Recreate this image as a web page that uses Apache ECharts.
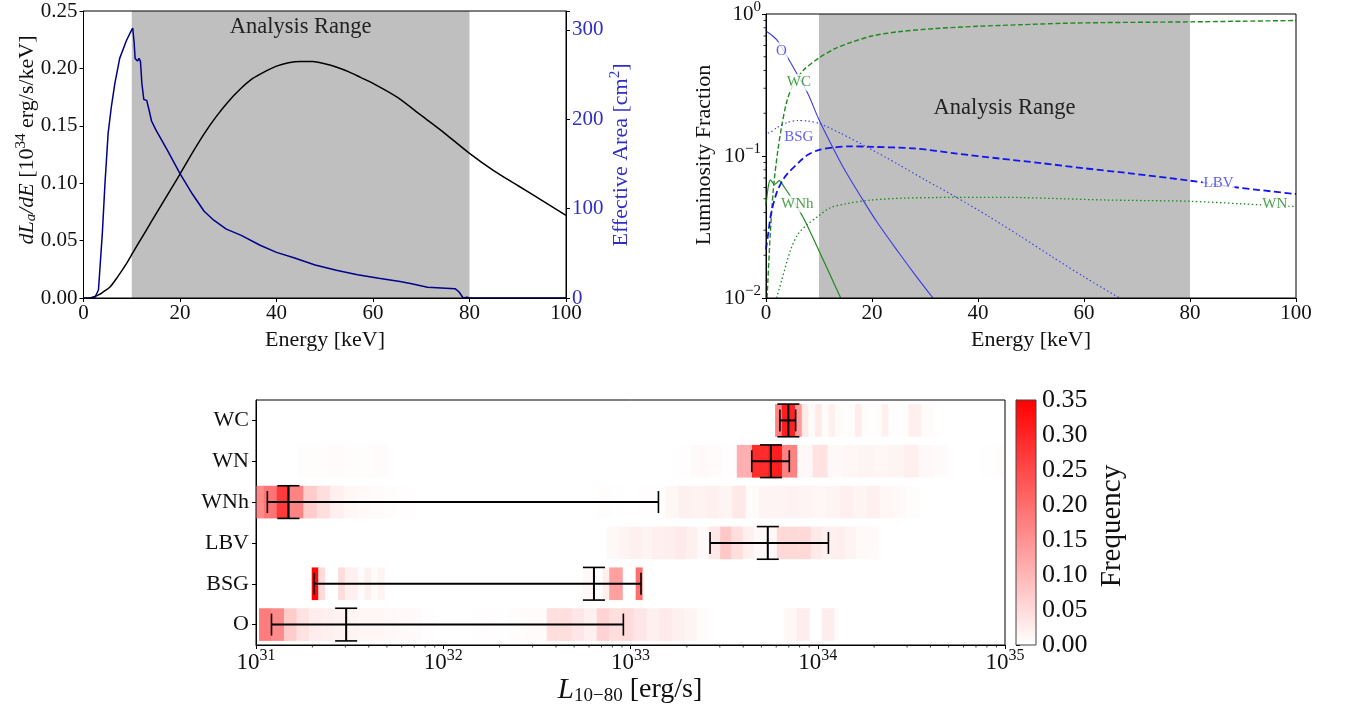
<!DOCTYPE html>
<html><head><meta charset="utf-8">
<script src="https://cdn.jsdelivr.net/npm/echarts@6/dist/echarts.min.js"></script>
<style>html,body{margin:0;padding:0;background:#fff}#c{width:1346px;height:712px}</style>
</head><body><div id="c"></div>
<script>
// ---------- Top-left: axion spectrum and effective area ----------
const E_DLDE = [1.3,2,3,4,5.5,7,8.9,10.3,12,14,16,18,20,22.5,25,27.5,30,32.5,35,37.5,40,42.5,45,47.5,50,52.5,55,57.5,60,65,70,75,80,85,90,95,100];
const DLDE   = [0,0.0008,0.0025,0.005,0.0096,0.018,0.030,0.040,0.052,0.066,0.08,0.094,0.108,0.126,0.143,0.158,0.171,0.182,0.191,0.197,0.202,0.205,0.206,0.206,0.204,0.201,0.197,0.192,0.187,0.175,0.159,0.143,0.126,0.111,0.098,0.085,0.072];
const E_AEFF = [0,2.3,3.1,3.9,4.45,5.1,5.8,6.5,7.5,8.9,9.8,10.2,10.5,10.7,11.2,11.5,11.8,12.1,12.5,13.1,13.6,14.1,15,17.4,20,22.6,25,27,29.6,32.7,36.6,40,43.6,48,52.4,56.8,61.2,65.6,68,71.3,77,77.8,78.7,79.5,80,100];
const AEFF   = [0,0,9,72,128,184,215,240,268,288,298,302,285,268,265,268,265,240,222,221,210,198,188,165,139,116,97,87,77,70,59,51,45,37,31,26,22,18.5,16,12,10.4,7,0,1,0,0];
const ANALYSIS_RANGE = [10, 80];

// ---------- Top-right: luminosity fractions ----------
const E_O   = [0,2,4,6,8,10,12.7,15,18,21,25,28,31.5];
const F_O   = [0.76,0.66,0.50,0.37,0.27,0.18,0.113,0.078,0.051,0.034,0.021,0.0148,0.01];
const E_WC  = [0.2,0.8,1.4,2.2,3,3.9,5,7,10,13,16,20,25,32,40,48,56,64,72,80,90,100];
const F_WC  = [0.01,0.028,0.059,0.107,0.165,0.24,0.31,0.40,0.49,0.57,0.63,0.70,0.75,0.79,0.82,0.84,0.86,0.87,0.875,0.88,0.89,0.90];
const E_BSG = [0,0.5,2,4,6,8,10,14,19,25,30,36,42,48,54,60,66.7];
const F_BSG = [0.155,0.145,0.158,0.172,0.178,0.176,0.17,0.145,0.116,0.087,0.068,0.051,0.0376,0.0272,0.0195,0.0141,0.01];
const E_LBV = [0,0.5,1,2,3,3.9,6.3,7.9,9.9,13,16,20,28,36,44,52,60,68,80,89,100];
const F_LBV = [0.022,0.03,0.04,0.055,0.066,0.074,0.091,0.102,0.110,0.115,0.117,0.116,0.113,0.104,0.096,0.089,0.082,0.076,0.067,0.060,0.054];
const E_WNH = [0,0.4,0.8,1.6,2.5,3.5,4.6,7,10,12,14.1];
const F_WNH = [0.045,0.06,0.068,0.063,0.067,0.06,0.052,0.037,0.0215,0.0148,0.01];
const E_WN  = [2,3,4.6,6,7.8,10,12,15,20,26,32,40,48,56,64,72,80,90,100];
const F_WN  = [0.01,0.0135,0.0216,0.028,0.033,0.038,0.043,0.046,0.049,0.0505,0.051,0.0512,0.051,0.050,0.049,0.0485,0.048,0.046,0.044];
const LBL_NAME = ['O','WC','BSG','LBV','WNh','WN'];
const LBL_E    = [2.9,6.2,6.2,85.4,5.9,96];
const LBL_V    = [0.55,0.33,0.136,0.0645,0.046,0.046];

// ---------- Bottom: L(10-80) histograms ----------
const ROWS = ['O','BSG','LBV','WNh','WN','WC'];
const O_RANGE   = [1.038e31, 1.227e34];
const O_FREQ    = [0.18,0.16,0.07,0.04,0.025,0.02,0.018,0.015,0.012,0.012,
                   0.01,0.008,0.005,0.003,0,0,0,0.002,0.003,0.002,
                   0.004,0.005,0.006,0.045,0.045,0.035,0.02,0.06,0.045,0.05,
                   0.035,0.02,0.03,0.02,0.015,0.006,0,0,0,0,
                   0,0,0.012,0.025,0,0.025];
const BSG_RANGE = [1.984e31, 1.156e33];
const BSG_FREQ  = [0.34,0.05,0,0,0.05,0.02,0.02,0.005,0.02,0.005,
                   0.015,0,0,0,0,0,0,0,0,0,
                   0,0,0,0,0,0,0,0,0,0,
                   0,0,0,0,0,0,0,0,0,0,
                   0,0.01,0.01,0,0.02,0.13,0.13,0,0,0.2];
const LBV_RANGE = [7.46e32, 2.12e34];
const LBV_FREQ  = [0.01,0.015,0.02,0.015,0.02,0.023,0.029,0.02,0.008,0.032,
                   0.075,0.045,0.02,0.01,0.01,0.054,0.054,0.054,0.029,0.02,
                   0.023,0.015,0.008,0.005];
const WNH_RANGE = [9.27e30, 3.51e34];
const WNH_FREQ  = [0.16,0.19,0.27,0.17,0.07,0.045,0.022,0.012,0.008,0.006,
                   0.004,0.003,0,0,0,0,0,0,0,0,
                   0,0,0,0,0,0,0.004,0.002,0,0.003,
                   0.002,0.012,0.02,0.018,0.02,0.015,0.032,0.006,0.015,0.015,
                   0.018,0.015,0.012,0.015,0.02,0.015,0.02,0.012,0.008,0.004];
const WN_RANGE  = [1.67e31, 1.055e35];
const WN_FREQ   = [0.004,0.004,0.005,0.004,0.004,0.005,0,0,0,0,
                   0,0,0,0,0,0,0,0,0,0,
                   0,0,0,0,0,0.003,0.008,0.006,0.003,0.11,
                   0.29,0.31,0.17,0.01,0.04,0.008,0.012,0.015,0.012,0.015,
                   0.022,0.01,0.006,0,0,0.002,0.004];
const WC_RANGE  = [5.92e33, 4.23e34];
const WC_FREQ   = [0.17,0.31,0.30,0.14,0.03,0.005,0.03,0.005,0.02,0.005,
                   0.004,0.005,0.025,0.004,0.003,0.004,0.02,0.004,0.003,0.004,
                   0.022,0.02,0.006,0.005];
// error bars: O, BSG, LBV, WNh, WN, WC
const EB_LO  = [1.21e31, 2.04e31, 2.66e33, 1.15e31, 4.44e33, 6.28e33];
const EB_MID = [3.03e31, 6.38e32, 5.41e33, 1.49e31, 5.62e33, 6.97e33];
const EB_HI  = [9.16e32, 1.138e33, 1.14e34, 1.41e33, 7.05e33, 7.62e33];
const FREQ_MAX = 0.35;

// ---------- helpers ----------
const F = '"Liberation Serif","DejaVu Serif",serif';
const TXT = '#111';
const DBLUE = '#00008b';
const LBLUE = '#2f2fc8';
const PBLUE = '#3a3ae6';
const GREEN = '#1f8a1f';
const GRAY = '#bfbfbf';

function pairs(xs, ys) { return xs.map((x, i) => [x, ys[i]]); }
function redFor(v) { const g = Math.round(255 * (1 - Math.min(v, FREQ_MAX) / FREQ_MAX)); return 'rgb(255,' + g + ',' + g + ')'; }
function supLabel(v) { const e = Math.round(Math.log10(v)); return '{b|10}{s|' + (e < 0 ? '\u2212' + (-e) : e) + '}'; }
function richLog(size, sup) {
  return {b: {fontFamily: F, fontSize: size, color: TXT, lineHeight: size + 6},
          s: {fontFamily: F, fontSize: sup, color: TXT, lineHeight: size + 6, padding: [0, 0, Math.round(size * 0.6), 0]}};
}

const heatData = [];
[[O_RANGE, O_FREQ], [BSG_RANGE, BSG_FREQ], [LBV_RANGE, LBV_FREQ], [WNH_RANGE, WNH_FREQ], [WN_RANGE, WN_FREQ], [WC_RANGE, WC_FREQ]]
  .forEach(([rng, fr], row) => {
    const a = Math.log10(rng[0]), b = Math.log10(rng[1]), w = (b - a) / fr.length;
    fr.forEach((f, i) => { if (f > 0) heatData.push([Math.pow(10, a + i * w), Math.pow(10, a + (i + 1) * w), row, f]); });
  });
const ebData = ROWS.map((r, i) => [EB_LO[i], EB_HI[i], EB_MID[i], i]);

// log minor tick positions (axis decoration)
const minorY = []; [-2, -1].forEach(e => { for (let m = 2; m <= 9; m++) minorY.push([0, m * Math.pow(10, e)]); });
const minorX = []; [31, 32, 33, 34].forEach(e => { for (let m = 2; m <= 9; m++) minorX.push([m * Math.pow(10, e), 0]); });

const axLine = {show: true, lineStyle: {color: '#000', width: 1}};
const axTick = {show: true, length: 4, lineStyle: {color: '#000', width: 1}};
const axLab = {fontFamily: F, fontSize: 21, color: TXT, margin: 5};
const gridBase = {show: true, z: 10, backgroundColor: 'transparent', borderColor: '#000', borderWidth: 1, containLabel: false};

function lineSeries(xs, ys, color, width, type, yIdx, xIdx, smooth) {
  return {type: 'line', xAxisIndex: xIdx, yAxisIndex: yIdx, data: pairs(xs, ys), showSymbol: false, symbol: 'none',
    smooth: smooth, z: 3, lineStyle: {color: color, width: width, type: type}, silent: true};
}

const chart = echarts.init(document.getElementById('c'), null, {renderer: 'canvas'});
const option = {
  animation: false,
  backgroundColor: '#fff',
  textStyle: {fontFamily: F},
  grid: [
    Object.assign({left: 83.5, top: 11, width: 482.5, height: 287}, gridBase),
    Object.assign({left: 766, top: 11, width: 530, height: 287}, gridBase),
    Object.assign({left: 256, top: 400, width: 749, height: 245}, gridBase),
    Object.assign({left: 1016, top: 400, width: 20, height: 245}, gridBase, {borderColor: '#444'})
  ],
  xAxis: [
    {gridIndex: 0, type: 'value', min: 0, max: 100, interval: 20, axisLine: axLine, axisTick: axTick, axisLabel: axLab, splitLine: {show: false}},
    {gridIndex: 1, type: 'value', min: 0, max: 100, interval: 20, axisLine: axLine, axisTick: axTick, axisLabel: axLab, splitLine: {show: false}},
    {gridIndex: 2, type: 'log', logBase: 10, min: 1e31, max: 1e35, axisLine: axLine, axisTick: axTick,
      axisLabel: {margin: 3, formatter: supLabel, rich: richLog(23, 16)}, splitLine: {show: false}, minorTick: {show: false}},
    {gridIndex: 3, type: 'value', min: 0, max: 1, show: false}
  ],
  yAxis: [
    {gridIndex: 0, type: 'value', min: 0, max: 0.25, interval: 0.05, axisLine: axLine, axisTick: axTick,
      axisLabel: Object.assign({}, axLab, {margin: 6, formatter: v => v.toFixed(2)}), splitLine: {show: false}},
    {gridIndex: 0, type: 'value', position: 'right', min: 0, max: 321, interval: 100, axisLine: axLine, axisTick: axTick,
      axisLabel: Object.assign({}, axLab, {color: LBLUE, margin: 6, formatter: v => (Math.abs(v % 100) < 1e-6 ? String(v) : '')}), splitLine: {show: false}},
    {gridIndex: 1, type: 'log', logBase: 10, min: 0.01, max: 1, axisLine: axLine, axisTick: axTick,
      axisLabel: {margin: 5, formatter: supLabel, rich: richLog(21, 15)}, splitLine: {show: false}, minorTick: {show: false}},
    {gridIndex: 2, type: 'category', data: ROWS, axisLine: axLine, axisTick: Object.assign({}, axTick, {alignWithLabel: true}),
      axisLabel: Object.assign({}, axLab, {fontSize: 22, margin: 7}), splitLine: {show: false}},
    {gridIndex: 3, type: 'value', position: 'right', min: 0, max: FREQ_MAX, interval: 0.05, axisLine: {show: true, lineStyle: {color: '#444'}},
      axisTick: axTick, axisLabel: Object.assign({}, axLab, {fontSize: 26, margin: 6, formatter: v => v.toFixed(2)}), splitLine: {show: false}}
  ],
  series: [
    // shaded analysis range, top-left
    {type: 'line', xAxisIndex: 0, yAxisIndex: 0, data: [[ANALYSIS_RANGE[0], 0]], symbol: 'none', lineStyle: {opacity: 0}, z: 1, silent: true,
      markArea: {silent: true, itemStyle: {color: GRAY},
        label: {show: true, position: ['50%', 16], align: 'center', verticalAlign: 'middle', fontFamily: F, fontSize: 22.5, color: '#222', formatter: 'Analysis Range'},
        data: [[{xAxis: ANALYSIS_RANGE[0]}, {xAxis: ANALYSIS_RANGE[1]}]]}},
    lineSeries(E_DLDE, DLDE, '#000', 1.5, 'solid', 0, 0, 0.3),
    lineSeries(E_AEFF, AEFF, DBLUE, 1.5, 'solid', 1, 0, false),
    // shaded analysis range, top-right
    {type: 'line', xAxisIndex: 1, yAxisIndex: 2, data: [[ANALYSIS_RANGE[0], 0.1]], symbol: 'none', lineStyle: {opacity: 0}, z: 1, silent: true,
      markArea: {silent: true, itemStyle: {color: GRAY},
        label: {show: true, position: ['50%', 94], align: 'center', verticalAlign: 'middle', fontFamily: F, fontSize: 22.5, color: '#222', formatter: 'Analysis Range'},
        data: [[{xAxis: ANALYSIS_RANGE[0]}, {xAxis: ANALYSIS_RANGE[1]}]]}},
    lineSeries(E_WC, F_WC, GREEN, 1.4, [5, 2.5], 2, 1, 0.3),
    lineSeries(E_WN, F_WN, GREEN, 1.3, [1.5, 2.5], 2, 1, 0.3),
    lineSeries(E_WNH, F_WNH, GREEN, 1.2, 'solid', 2, 1, 0.25),
    lineSeries(E_O, F_O, PBLUE, 1.1, 'solid', 2, 1, 0.3),
    lineSeries(E_BSG, F_BSG, PBLUE, 1.1, [1.5, 2.5], 2, 1, 0.25),
    lineSeries(E_LBV, F_LBV, '#1414f0', 1.8, [7, 3.5], 2, 1, 0.3),
    {type: 'scatter', xAxisIndex: 1, yAxisIndex: 2, symbolSize: 0, z: 6, silent: true,
      data: LBL_NAME.map((n, i) => ({name: n, value: [LBL_E[i], LBL_V[i]],
        label: {color: (n === 'O' || n === 'BSG' || n === 'LBV') ? PBLUE : GREEN}})),
      label: {show: true, position: 'inside', formatter: p => p.name, fontFamily: F, fontSize: 15, backgroundColor: '#fff', padding: [1, 1]}},
    {type: 'custom', xAxisIndex: 1, yAxisIndex: 2, data: minorY, z: 4, silent: true,
      renderItem: (params, api) => { const p = api.coord([0, api.value(1)]); const x0 = params.coordSys.x;
        return {type: 'line', shape: {x1: x0 - 2.5, y1: p[1], x2: x0, y2: p[1]}, style: {stroke: '#000', lineWidth: 0.8}}; }},
    // heatmap cells
    {type: 'custom', xAxisIndex: 2, yAxisIndex: 3, data: heatData, encode: {x: [0, 1], y: 2}, clip: true, z: 2, silent: true,
      renderItem: (params, api) => {
        const r = api.value(2);
        const a = api.coord([api.value(0), r]), b = api.coord([api.value(1), r]);
        const band = Math.abs(api.coord([api.value(0), 1])[1] - api.coord([api.value(0), 0])[1]);
        const h = band * 0.8;
        return {type: 'rect', shape: {x: a[0], y: a[1] - h / 2, width: b[0] - a[0] + 0.3, height: h}, style: {fill: redFor(api.value(3))}};
      }},
    // error bars
    {type: 'custom', xAxisIndex: 2, yAxisIndex: 3, data: ebData, encode: {x: [0, 1, 2], y: 3}, z: 5, silent: true,
      renderItem: (params, api) => {
        const r = api.value(3);
        const a = api.coord([api.value(0), r]), b = api.coord([api.value(1), r]), c = api.coord([api.value(2), r]);
        const band = Math.abs(api.coord([api.value(2), 1])[1] - api.coord([api.value(2), 0])[1]);
        const h = band * 0.4, cap = 11;
        const s1 = {stroke: '#000', lineWidth: 2}, s2 = {stroke: '#000', lineWidth: 1.6};
        return {type: 'group', children: [
          {type: 'line', shape: {x1: a[0], y1: a[1], x2: b[0], y2: b[1]}, style: s1},
          {type: 'line', shape: {x1: a[0], y1: a[1] - cap, x2: a[0], y2: a[1] + cap}, style: s2},
          {type: 'line', shape: {x1: b[0], y1: b[1] - cap, x2: b[0], y2: b[1] + cap}, style: s2},
          {type: 'line', shape: {x1: c[0], y1: c[1] - h, x2: c[0], y2: c[1] + h}, style: s1},
          {type: 'line', shape: {x1: c[0] - cap, y1: c[1] - h, x2: c[0] + cap, y2: c[1] - h}, style: s2},
          {type: 'line', shape: {x1: c[0] - cap, y1: c[1] + h, x2: c[0] + cap, y2: c[1] + h}, style: s2}
        ]};
      }},
    {type: 'custom', xAxisIndex: 2, yAxisIndex: 3, data: minorX, z: 4, silent: true,
      renderItem: (params, api) => { const p = api.coord([api.value(0), 0]); const y0 = params.coordSys.y + params.coordSys.height;
        return {type: 'line', shape: {x1: p[0], y1: y0, x2: p[0], y2: y0 + 2.5}, style: {stroke: '#000', lineWidth: 0.8}}; }},
    // colorbar
    {type: 'custom', xAxisIndex: 3, yAxisIndex: 4, data: [[0, 0]], z: 2, silent: true,
      renderItem: (params, api) => { const cs = params.coordSys;
        return {type: 'rect', shape: {x: cs.x, y: cs.y, width: cs.width, height: cs.height},
          style: {fill: new echarts.graphic.LinearGradient(0, 0, 0, 1, [{offset: 0, color: redFor(FREQ_MAX)}, {offset: 1, color: redFor(0)}])}}; }}
  ],
  graphic: [
    {type: 'text', x: 325, y: 340, z: 20, style: {text: 'Energy [keV]', fontFamily: F, fontSize: 22, fill: TXT, align: 'center', verticalAlign: 'middle'}},
    {type: 'text', x: 1031, y: 340, z: 20, style: {text: 'Energy [keV]', fontFamily: F, fontSize: 22, fill: TXT, align: 'center', verticalAlign: 'middle'}},
    {type: 'text', x: 27, y: 140, rotation: Math.PI / 2, z: 20, style: {
      text: '{i|dL}{sub|a}{i|/dE} [10{sup|34} erg/s/keV]', fontFamily: F, fontSize: 22, fill: TXT, align: 'center', verticalAlign: 'middle',
      rich: {i: {fontFamily: F, fontSize: 22, fontStyle: 'italic', fill: TXT}, sub: {fontFamily: F, fontSize: 15, fontStyle: 'italic', fill: TXT, padding: [9, 0, 0, 0]},
             sup: {fontFamily: F, fontSize: 15, fill: TXT, padding: [0, 0, 11, 0]}}}},
    {type: 'text', x: 621, y: 155, rotation: Math.PI / 2, z: 20, style: {
      text: 'Effective Area [cm{sup|2}]', fontFamily: F, fontSize: 22, fill: LBLUE, align: 'center', verticalAlign: 'middle',
      rich: {sup: {fontFamily: F, fontSize: 15, fill: LBLUE, padding: [0, 0, 11, 0]}}}},
    {type: 'text', x: 704, y: 155, rotation: Math.PI / 2, z: 20, style: {text: 'Luminosity Fraction', fontFamily: F, fontSize: 22, fill: TXT, align: 'center', verticalAlign: 'middle'}},
    {type: 'text', x: 630, y: 690, z: 20, style: {
      text: '{i|L}{sub|10\u221280} [erg/s]', fontFamily: F, fontSize: 28, fill: TXT, align: 'center', verticalAlign: 'middle',
      rich: {i: {fontFamily: F, fontSize: 29, fontStyle: 'italic', fill: TXT}, sub: {fontFamily: F, fontSize: 19, fill: TXT, padding: [12, 0, 0, 0]}}}},
    {type: 'text', x: 1112, y: 526, rotation: Math.PI / 2, z: 20, style: {text: 'Frequency', fontFamily: F, fontSize: 29, fill: TXT, align: 'center', verticalAlign: 'middle'}}
  ]
};
chart.setOption(option);
</script>
</body></html>
